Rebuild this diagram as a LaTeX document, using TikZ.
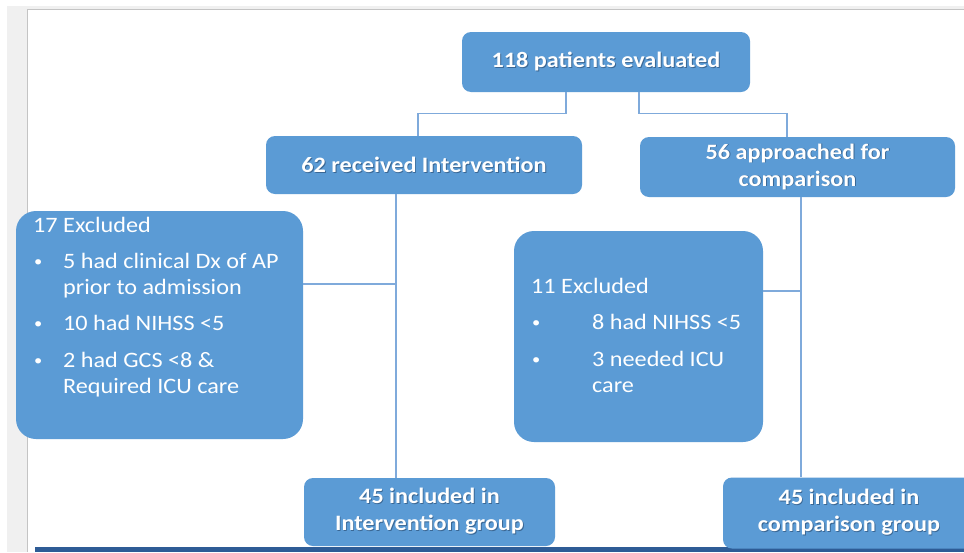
\documentclass[tikz,border=0pt]{standalone}
\usepackage{fontspec}
\setmainfont{Carlito}[FakeStretch=1.1]
\definecolor{boxblue}{HTML}{5B9BD5}
\definecolor{linec}{HTML}{7FAADB}
\definecolor{barblue}{HTML}{2E5C96}
\definecolor{shadowc}{HTML}{3A6794}
\definecolor{stripgray}{HTML}{F0F0F0}
\definecolor{edgegray}{HTML}{C4C4C4}
\newcommand\shd[1]{\rlap{\kern0.9pt\raisebox{-0.9pt}{\textcolor{shadowc}{#1}}}#1}
\begin{document}
\begin{tikzpicture}[x=1pt,y=-1pt,
  boxbase/.style={fill=boxblue, draw=none, text=white, inner sep=0pt},
  headbox/.style={boxbase, rounded corners=9pt, font=\fontsize{22}{27}\selectfont\bfseries, align=center},
  exbox/.style={boxbase, rounded corners=20pt},
  extext/.style={anchor=base west, text=white, inner sep=0pt, font=\fontsize{22}{26}\selectfont},
  bullet/.style={anchor=base west, text=white, inner sep=0pt, font=\fontsize{15}{18}\selectfont},
  conn/.style={draw=linec, line width=1.3pt}]
\useasboundingbox (0,0) rectangle (964,552);
% slide background
\fill[stripgray] (7,6) rectangle (964,552);
\fill[white] (27,9) rectangle (964,552);
\draw[edgegray, line width=0.8pt] (27,552) -- (27,9) -- (964,9);
\fill[barblue] (35,547) rectangle (964,552);
% boxes
\node[headbox, minimum width=288pt, minimum height=60pt] (eval) at (606,62) {\shd{118 patients evaluated}};
\node[headbox, minimum width=316pt, minimum height=58pt] (recv) at (424,165) {\shd{62 received Intervention}};
\node[headbox, minimum width=315pt, minimum height=60pt] (appr) at (797.5,167) {\shd{56 approached for}\\\shd{comparison}};
\node[exbox, minimum width=287pt, minimum height=228pt] (ex1) at (159.5,325) {};
\node[exbox, minimum width=249pt, minimum height=211pt] (ex2) at (638.5,336.5) {};
\node[headbox, minimum width=251pt, minimum height=68pt] (inc1) at (429.5,512) {\shd{45 included in}\\\shd{Intervention group}};
\node[headbox, minimum width=252pt, minimum height=71pt] (inc2) at (849,513) {\shd{45 included in}\\\shd{comparison group}};
% texts of excluded boxes
\node[extext] (e1h) at (33,232) {17 Excluded};
\node[bullet] (e1b1) at (34,266) {•};
\node[extext] (e1l1) at (63,268) {5 had clinical Dx of AP};
\node[extext] (e1l2) at (63,294) {prior to admission};
\node[bullet] (e1b2) at (34,328) {•};
\node[extext] (e1l3) at (63,330) {10 had NIHSS <5};
\node[bullet] (e1b3) at (34,365) {•};
\node[extext] (e1l4) at (63,367) {2 had GCS <8 \&};
\node[extext] (e1l5) at (63,393) {Required ICU care};
\node[extext] (e2h) at (531,293) {11 Excluded};
\node[bullet] (e2b1) at (532,327) {•};
\node[extext] (e2l1) at (592,329) {8 had NIHSS <5};
\node[bullet] (e2b2) at (532,364) {•};
\node[extext] (e2l2) at (592,366) {3 needed ICU};
\node[extext] (e2l3) at (592,392) {care};
% connectors
\draw[conn] ([xshift=-40pt]eval.south) -- ++(0,21) -| ([xshift=-6pt]recv.north);
\draw[conn] ([xshift=33pt]eval.south) -- ++(0,21) -| ([xshift=-10.5pt]appr.north);
\coordinate (v1) at ([xshift=-28pt]recv.south);
\coordinate (v2) at ([xshift=3.5pt]appr.south);
\draw[conn] (v1) -- ([xshift=-33.5pt]inc1.north);
\draw[conn] (v2) -- ([xshift=-48pt]inc2.north);
\coordinate (h1) at ([yshift=41pt]ex1.east);
\coordinate (h2) at ([yshift=45.5pt]ex2.east);
\draw[conn] (h1) -- (h1 -| v1);
\draw[conn] (h2) -- (h2 -| v2);
\end{tikzpicture}
\end{document}
